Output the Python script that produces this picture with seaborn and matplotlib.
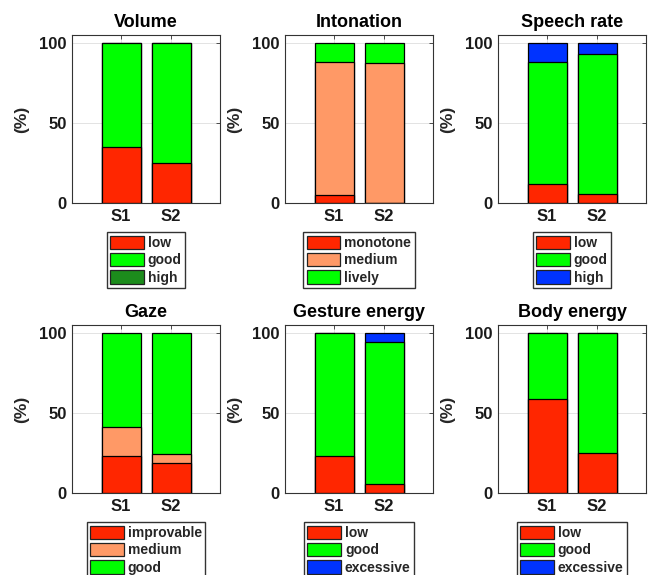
import matplotlib
matplotlib.use("Agg")
import matplotlib.pyplot as plt
import matplotlib.patches as mpatches
import seaborn as sns
import pandas as pd

sns.set_style("white")
plt.rcParams["font.family"] = ["Liberation Sans", "DejaVu Sans"]
plt.rcParams["font.weight"] = "bold"

RED = "#ff2600"
SALMON = "#ff9966"
GREEN = "#00ff00"
DARKGREEN = "#1c8c1c"
BLUE = "#0033ff"

sessions = ["S1", "S2"]

# one row per category, one value per session (percent)
volume_labels = ["low", "good", "high"]
volume_values = [[35, 25], [65, 75], [0, 0]]

intonation_labels = ["monotone", "medium", "lively"]
intonation_values = [[5, 0], [83.3, 87.6], [11.7, 12.4]]

speech_labels = ["low", "good", "high"]
speech_values = [[11.6, 5.4], [76.6, 88.0], [11.8, 6.6]]

gaze_labels = ["improvable", "medium", "good"]
gaze_values = [[23.1, 18.5], [17.9, 5.9], [59.0, 75.6]]

gesture_labels = ["low", "good", "excessive"]
gesture_values = [[23.3, 5.9], [76.7, 88.2], [0, 5.9]]

body_labels = ["low", "good", "excessive"]
body_values = [[58.5, 24.7], [41.5, 75.3], [0, 0]]

panels = [
    ("Volume", volume_labels, volume_values, [RED, GREEN, DARKGREEN]),
    ("Intonation", intonation_labels, intonation_values, [RED, SALMON, GREEN]),
    ("Speech rate", speech_labels, speech_values, [RED, GREEN, BLUE]),
    ("Gaze", gaze_labels, gaze_values, [RED, SALMON, GREEN]),
    ("Gesture energy", gesture_labels, gesture_values, [RED, GREEN, BLUE]),
    ("Body energy", body_labels, body_values, [RED, GREEN, BLUE]),
]

W, H = 650, 575
lefts = [72, 285, 498]
tops = [35, 325]
ax_w, ax_h = 148, 168


def draw_panel(ax, title, labels, values, colors):
    # cumulative tops, drawn largest first so the stack shows through
    running = [0] * len(sessions)
    stacks = []
    for layer in values:
        running = [r + v for r, v in zip(running, layer)]
        stacks.append(list(running))
    for k in reversed(range(len(labels))):
        df = pd.DataFrame({"session": sessions, "pct": stacks[k]})
        sns.barplot(data=df, x="session", y="pct", color=colors[k], width=0.78,
                    edgecolor="black", linewidth=0.9, saturation=1,
                    errorbar=None, ax=ax)

    ax.set_xlim(-0.98, 1.98)
    ax.set_ylim(0, 105)
    ax.set_yticks([0, 50, 100])
    ax.set_axisbelow(True)
    ax.grid(True, color="#e3e3e3", linewidth=0.7)
    ax.tick_params(direction="in", top=True, right=True, length=3,
                   width=0.6, color="#333333", labelsize=12, pad=4)
    for lab in ax.get_xticklabels() + ax.get_yticklabels():
        lab.set_fontweight("bold")
        lab.set_color("#1a1a1a")
    for sp in ax.spines.values():
        sp.set_visible(True)
        sp.set_color("#333333")
        sp.set_linewidth(0.8)
    ax.set_xlabel("")
    ax.set_ylabel("(%)", fontsize=12.5, fontweight="bold", color="#262626", labelpad=7)
    ax.set_title(title, fontsize=13, fontweight="bold", color="black", pad=6)

    handles = [mpatches.Patch(facecolor=c, edgecolor="#222222", linewidth=0.9)
               for c in colors]
    ax.legend(handles, labels, loc="upper center", bbox_to_anchor=(0.5, -0.175),
              frameon=True, fancybox=False, edgecolor="#333333", framealpha=1,
              handlelength=2.4, handleheight=1.1, handletextpad=0.3,
              labelspacing=0.2, borderpad=0.25, borderaxespad=0,
              prop={"weight": "bold", "size": 10})


fig = plt.figure(figsize=(W / 100, H / 100), dpi=100)
for i, (title, labels, values, colors) in enumerate(panels):
    row, col = divmod(i, 3)
    rect = [lefts[col] / W, (H - tops[row] - ax_h) / H, ax_w / W, ax_h / H]
    ax = fig.add_axes(rect)
    draw_panel(ax, title, labels, values, colors)

fig.savefig("out.png", dpi=100)
